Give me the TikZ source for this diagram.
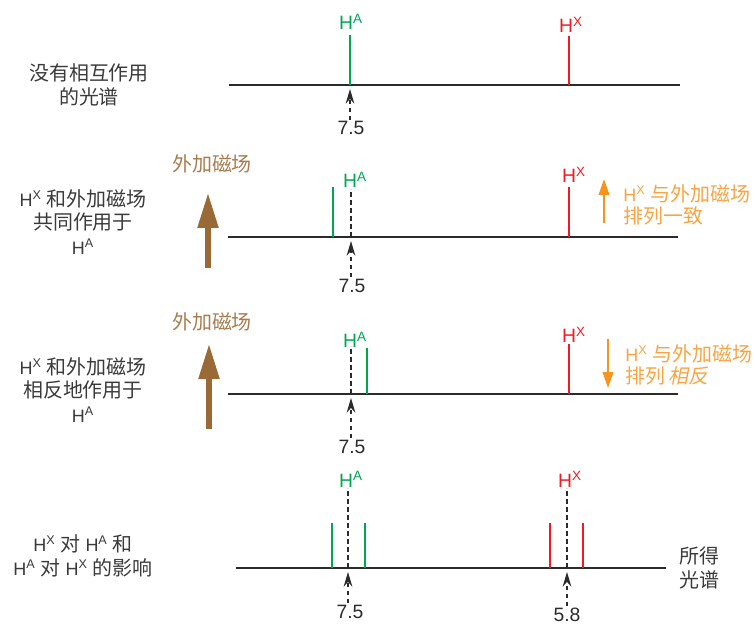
\documentclass[tikz,border=0pt]{standalone}
\usepackage{fontspec}
\setmainfont{Liberation Sans}
\newfontfamily\cjk[Scale=1.11]{Noto Sans CJK SC}
\newfontfamily\cjkslant[Scale=1.11,FakeSlant=0.2]{Noto Sans CJK SC}
\usetikzlibrary{arrows.meta}
\definecolor{ink}      {HTML}{2B2B2B}
\definecolor{note}     {HTML}{3A3A3A}
\definecolor{protA}    {HTML}{00A651}
\definecolor{protX}    {HTML}{ED1C24}
\definecolor{field}    {HTML}{9A6A36}
\definecolor{fieldtext}{HTML}{A87C4F}
\definecolor{spin}     {HTML}{F7941D}
\definecolor{spintext} {HTML}{F8A443}
\tikzset{
  specline/.style={ink, line width=1.4pt},
  lineA/.style={protA, line width=1.2pt},
  lineX/.style={protX, line width=1.2pt},
  midline/.style={ink, line width=1.1pt, dash pattern=on 3.5pt off 2.5pt},
  shiftarrow/.style={ink, line width=0.9pt, dash pattern=on 3pt off 3pt,
    -{Stealth[length=11pt,width=6.5pt]}, shorten <=1pt},
  fieldarrow/.style={field, line width=5.2pt, -{Triangle[length=27pt,width=14.5pt]}},
  spinarrow/.style={spin, line width=1.1pt, -{Triangle[length=12pt,width=8pt]}},
  tag/.style={font=\fontsize{14.5}{17}\selectfont, inner sep=0pt, anchor=base},
  numlabel/.style={ink, font=\fontsize{14.5}{17}\selectfont, inner sep=0pt, anchor=base},
  sidetext/.style={note, font=\fontsize{13.5}{17.5}\selectfont, align=center, inner sep=0pt},
  fieldlabel/.style={fieldtext, font=\fontsize{13.5}{15}\selectfont\cjk, inner sep=0pt},
  spinlabel/.style={spintext, font=\fontsize{13.5}{17}\selectfont, align=left,
    inner sep=0pt, anchor=west},
}
\begin{document}
\begin{tikzpicture}[x=0.75pt, y=-0.75pt]
  \useasboundingbox (0,0) rectangle (754,624);

  % no coupling
  \node[sidetext] (free) at (89,85) {{\cjk 没有相互作用}\\{\cjk 的光谱}};
  \draw[specline] (229,85) -- (680,85);
  \draw[lineA] (350,85) -- (350,35);
  \draw[lineX] (569,85) -- (569,36);
  \node[tag, text=protA] (a1) at (351,30) {H\textsuperscript{A}};
  \node[tag, text=protX] (x1) at (571,33) {H\textsuperscript{X}};
  \node[numlabel] (d1) at (351,135) {7.5};
  \coordinate (t1) at (350,89);
  \draw[shiftarrow] (d1.north -| t1) -- (t1);

  % H^X aligned with the field
  \node[fieldlabel] (f2) at (212,164) {外加磁场};
  \coordinate (f2s) at (208,268);
  \coordinate (f2e) at (208,192);
  \draw[fieldarrow] (f2s) -- (f2e);
  \node[sidetext] (with) at (83,222)
    {H\textsuperscript{X} {\cjk 和外加磁场}\\{\cjk 共同作用于}\\[1pt]H\textsuperscript{A}};
  \draw[specline] (228,237) -- (678,237);
  \draw[lineA] (333,237) -- (333,187);
  \draw[midline] (351,237) -- (351,189);
  \draw[lineX] (569,237) -- (569,187);
  \node[tag, text=protA] (a2) at (355,188) {H\textsuperscript{A}};
  \node[tag, text=protX] (x2) at (574,183) {H\textsuperscript{X}};
  \node[numlabel] (d2) at (352,292) {7.5};
  \coordinate (t2) at (351,241);
  \draw[shiftarrow] (d2.north -| t2) -- (t2);
  \coordinate (s2s) at (604,223);
  \coordinate (s2e) at (604,179);
  \draw[spinarrow] (s2s) -- (s2e);
  \node[spinlabel] (s2) at (623,205)
    {H\textsuperscript{X} {\cjk 与外加磁场}\\{\cjk 排列一致}};

  % H^X against the field
  \node[fieldlabel] (f3) at (212,322) {外加磁场};
  \coordinate (f3s) at (209,429);
  \coordinate (f3e) at (209,343);
  \draw[fieldarrow] (f3s) -- (f3e);
  \node[sidetext] (against) at (83,390)
    {H\textsuperscript{X} {\cjk 和外加磁场}\\{\cjk 相反地作用于}\\[1pt]H\textsuperscript{A}};
  \draw[specline] (228,394) -- (678,394);
  \draw[midline] (351,394) -- (351,346);
  \draw[lineA] (367,394) -- (367,348);
  \draw[lineX] (569,394) -- (569,344);
  \node[tag, text=protA] (a3) at (355,348) {H\textsuperscript{A}};
  \node[tag, text=protX] (x3) at (574,343) {H\textsuperscript{X}};
  \node[numlabel] (d3) at (352,453) {7.5};
  \coordinate (t3) at (351,398);
  \draw[shiftarrow] (d3.north -| t3) -- (t3);
  \coordinate (s3s) at (608,339);
  \coordinate (s3e) at (608,388);
  \draw[spinarrow] (s3s) -- (s3e);
  \node[spinlabel] (s3) at (625,365)
    {H\textsuperscript{X} {\cjk 与外加磁场}\\{\cjk 排列}\,{\cjkslant 相反}};

  % both couplings
  \node[sidetext] (both) at (83,556)
    {H\textsuperscript{X} {\cjk 对} H\textsuperscript{A} {\cjk 和}\\[1pt]H\textsuperscript{A} {\cjk 对} H\textsuperscript{X} {\cjk 的影响}};
  \draw[specline] (236,568) -- (666,568);
  \node[sidetext, align=left, anchor=west] (result) at (679,568) {{\cjk 所得}\\{\cjk 光谱}};
  \draw[lineA] (332,568) -- (332,523);
  \draw[lineA] (365,568) -- (365,523);
  \draw[lineX] (550,568) -- (550,523);
  \draw[lineX] (583,568) -- (583,523);
  \draw[midline] (348,568) -- (348,488);
  \draw[midline] (567,568) -- (567,488);
  \node[tag, text=protA] (a4) at (351,487) {H\textsuperscript{A}};
  \node[tag, text=protX] (x4) at (570,487) {H\textsuperscript{X}};
  \node[numlabel] (d4) at (350,618) {7.5};
  \node[numlabel] (d5) at (567,621) {5.8};
  \coordinate (t4) at (348,572);
  \coordinate (t5) at (567,572);
  \draw[shiftarrow] (d4.north -| t4) -- (t4);
  \draw[shiftarrow] (d5.north -| t5) -- (t5);
\end{tikzpicture}
\end{document}
